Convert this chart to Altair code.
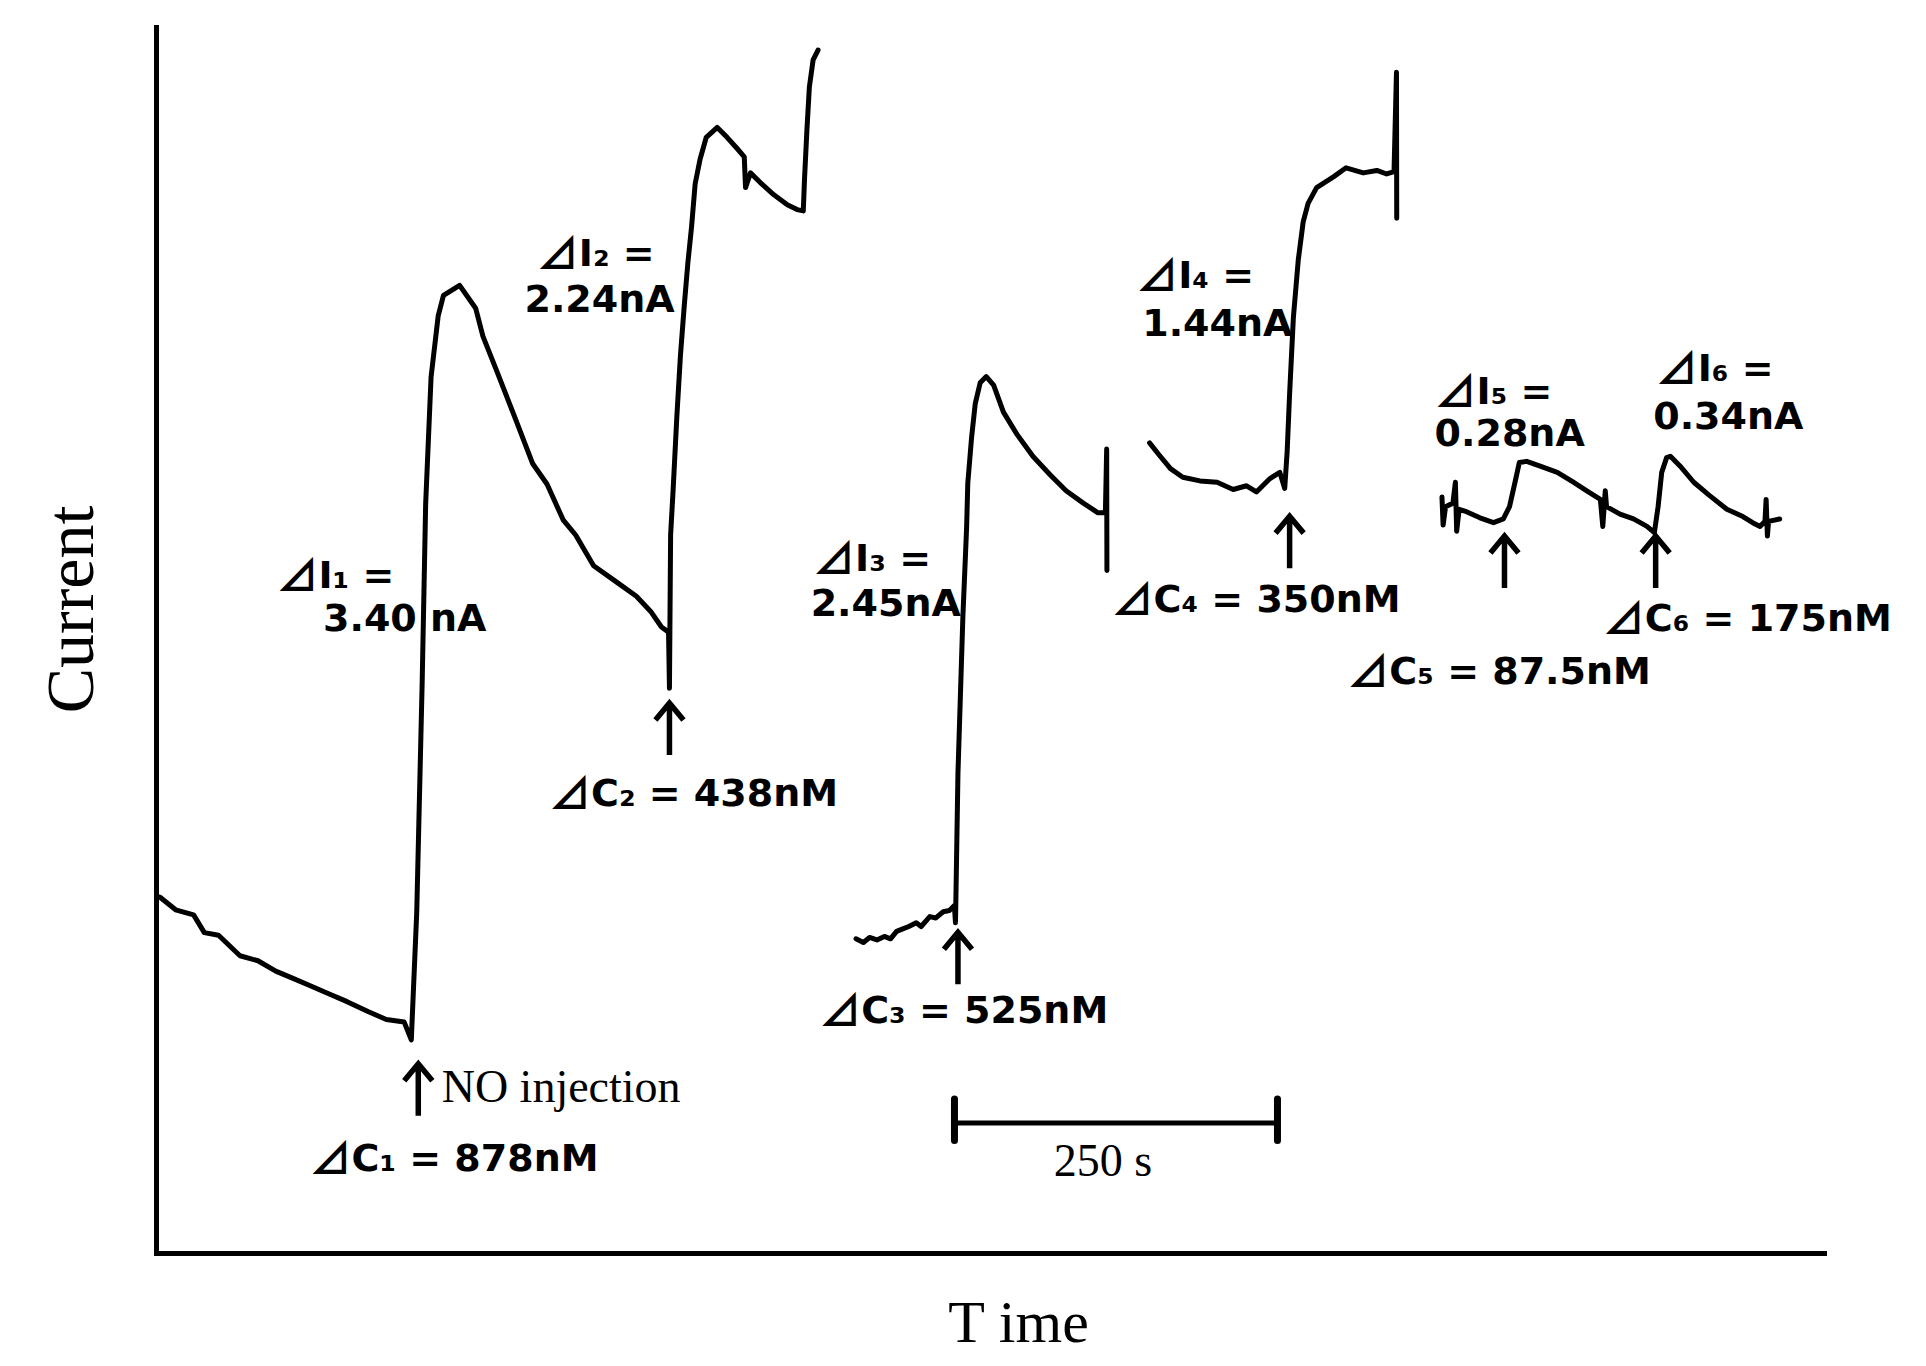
import altair as alt
import pandas as pd

# ---- trace data: time (s) and current (nA) ----
seg1_t = [2.9, 15.2, 29.1, 37.4, 48.4, 65.0, 78.9, 92.7, 106.5, 120.3, 134.1, 147.9, 164.5, 178.3, 192.1, 197.6,
          201.8, 206.0, 208.7, 212.9, 218.4, 222.5, 235.0, 247.4, 253.0, 264.0, 277.9, 291.6, 302.7, 315.1, 324.8,
          338.7, 355.2, 371.8, 382.9, 391.2, 396.7, 397.4, 398.3, 400.2, 403.1, 405.9, 408.8, 411.6, 414.5, 417.3,
          421.1, 425.9, 434.4, 442.0, 449.6, 455.3, 456.3, 460.1, 467.7, 478.2, 488.6, 496.2, 501.0, 501.9, 503.8,
          505.7, 508.6, 512.4]
seg1_I = [1.620, 1.562, 1.539, 1.458, 1.446, 1.353, 1.330, 1.283, 1.249, 1.214, 1.179, 1.144, 1.098, 1.063, 1.051, 0.970,
          1.550, 2.594, 3.407, 3.987, 4.265, 4.358, 4.404, 4.300, 4.173, 4.010, 3.801, 3.592, 3.499, 3.337, 3.268,
          3.128, 3.059, 2.989, 2.920, 2.849, 2.826, 2.570, 3.268, 3.469, 3.804, 4.084, 4.307, 4.503, 4.670, 4.866,
          4.978, 5.078, 5.123, 5.078, 5.028, 4.989, 4.849, 4.916, 4.872, 4.816, 4.771, 4.749, 4.743, 4.883, 5.112,
          5.307, 5.430, 5.475]

seg2_t = [541.8, 547.5, 552.3, 558.0, 563.7, 568.5, 573.2, 578.0, 582.7, 588.4, 592.2, 598.9, 603.6, 609.3, 614.1,
          617.9, 618.8, 620.7, 624.5, 627.4, 628.3, 631.2, 634.1, 637.9, 642.6, 648.3, 655.9, 666.4, 678.7, 692.0,
          704.4, 717.7, 729.1, 734.8, 735.8, 736.0]
seg2_I = [1.430, 1.413, 1.436, 1.425, 1.441, 1.430, 1.464, 1.475, 1.486, 1.503, 1.486, 1.531, 1.525, 1.553, 1.559,
          1.581, 1.503, 2.184, 2.894, 3.302, 3.503, 3.709, 3.866, 3.961, 3.989, 3.950, 3.827, 3.726, 3.626, 3.542,
          3.469, 3.413, 3.369, 3.369, 3.659, 3.106]

seg3_t = [769.0, 776.6, 785.2, 794.7, 808.0, 821.3, 833.7, 844.1, 851.7, 862.2, 869.8, 873.6, 875.5, 877.4, 880.3,
          884.1, 887.9, 891.7, 898.3, 911.6, 921.1, 934.4, 944.9, 952.5, 958.2, 960.1, 960.3]
seg3_I = [3.687, 3.631, 3.570, 3.531, 3.514, 3.508, 3.475, 3.492, 3.464, 3.525, 3.553, 3.480, 3.648, 3.911, 4.257,
          4.520, 4.693, 4.777, 4.849, 4.899, 4.939, 4.916, 4.927, 4.911, 4.922, 5.374, 4.709]

seg4_t = [995.3, 996.2, 998.1, 1003.8, 1005.7, 1006.7, 1008.6, 1014.3, 1024.7, 1035.2, 1042.8, 1047.6, 1052.3,
          1055.2, 1060.9, 1071.3, 1084.6, 1097.0, 1107.4, 1117.9, 1119.8, 1121.7, 1122.7, 1133.1, 1143.6, 1154.0,
          1159.7, 1162.6, 1165.4, 1169.2, 1172.1, 1179.7, 1190.2, 1202.5, 1215.8, 1228.2, 1235.8, 1241.5, 1245.3,
          1246.2, 1247.2, 1248.1, 1256.7]
seg4_I = [3.441, 3.313, 3.397, 3.413, 3.508, 3.285, 3.385, 3.374, 3.346, 3.324, 3.341, 3.397, 3.520, 3.598, 3.603,
          3.581, 3.553, 3.508, 3.469, 3.430, 3.307, 3.469, 3.397, 3.363, 3.341, 3.307, 3.279, 3.397, 3.553, 3.620,
          3.626, 3.581, 3.508, 3.447, 3.385, 3.352, 3.324, 3.307, 3.330, 3.430, 3.263, 3.330, 3.341]

# ---- annotations: labels that start with the ⊿ sign ----
delta_text = ["I₁ =", "I₂ =", "C₂ = 438nM", "I₃ =", "C₃ = 525nM", "C₁ = 878nM", "I₄ =", "C₄ = 350nM",
              "I₅ =", "I₆ =", "C₅ = 87.5nM", "C₆ = 175nM"]
delta_t = [93.2, 294.7, 304.2, 508.6, 513.3, 118.8, 758.6, 739.6, 989.6, 1160.7, 922.1, 1119.8]
delta_I = [3.078, 4.542, 2.084, 3.156, 1.095, 0.425, 4.441, 2.966, 3.916, 4.017, 2.642, 2.883]

# ---- annotations: value lines ----
value_text = ["3.40 nA", "2.24nA", "2.45nA", "1.44nA", "0.28nA", "0.34nA"]
value_t = [129.3, 285.2, 506.7, 763.3, 989.6, 1158.8]
value_I = [2.883, 4.335, 2.950, 4.223, 3.721, 3.799]

arrow_t = [203.0, 397.4, 620.7, 877.4, 1043.7, 1160.7]
arrow_I = [0.743, 2.385, 1.341, 3.235, 3.145, 3.145]

serif_text = ["NO injection"]
serif_t = [221.1]
serif_I = [0.687]

scale_text = ["250 s"]
scale_label_t = [732.9]
scale_label_I = [0.352]
bar_t0, bar_t1, bar_I = 618.0, 868.0, 0.592
cap_I0, cap_I1 = 0.512, 0.701

T_MAX, I_MAX = 1291.0, 5.58

# ---- tables ----
rows = []
for s, (ts, Is) in enumerate([(seg1_t, seg1_I), (seg2_t, seg2_I), (seg3_t, seg3_I), (seg4_t, seg4_I)]):
    for k, (t, i) in enumerate(zip(ts, Is)):
        rows.append({"seg": s, "idx": k, "t": t, "I": i})
trace = pd.DataFrame(rows)
deltas = pd.DataFrame({"text": delta_text, "tri": ["⊿"] * len(delta_text), "t": delta_t, "I": delta_I})
values = pd.DataFrame({"text": value_text, "t": value_t, "I": value_I})
arrows = pd.DataFrame({"t": arrow_t, "I": arrow_I})
serif = pd.DataFrame({"text": serif_text, "t": serif_t, "I": serif_I})
scale_lbl = pd.DataFrame({"text": scale_text, "t": scale_label_t, "I": scale_label_I})
bar = pd.DataFrame({"t0": [bar_t0], "t1": [bar_t1], "I": [bar_I]})
caps = pd.DataFrame({"t": [bar_t0, bar_t1], "I0": [cap_I0, cap_I0], "I1": [cap_I1, cap_I1]})

xs = alt.Scale(domain=[0, T_MAX], nice=False, zero=False)
ys = alt.Scale(domain=[0, I_MAX], nice=False, zero=False)

x_axis = alt.Axis(title="T ime", ticks=False, labels=False, grid=False, domainColor="black", domainWidth=5,
                  domainCap="square", titleFont="Liberation Serif", titleFontSize=60, titleFontWeight="normal",
                  titleColor="black", titleX=862, titleY=88, titleAlign="center", titleBaseline="alphabetic")
y_axis = alt.Axis(title="Current", ticks=False, labels=False, grid=False, domainColor="black", domainWidth=5,
                  domainCap="square", titleFont="Liberation Serif", titleFontSize=68, titleFontWeight="normal",
                  titleColor="black", titleX=-64, titleY=582, titleAngle=-90, titleAlign="center",
                  titleBaseline="alphabetic")


def X(field):
    return alt.X(field, scale=xs, axis=x_axis)


def Y(field):
    return alt.Y(field, scale=ys, axis=y_axis)


line = alt.Chart(trace).mark_line(color="black", strokeWidth=5, strokeJoin="round", strokeCap="round").encode(
    x=X("t:Q"), y=Y("I:Q"), detail="seg:N", order="idx:Q",
)

ARROW = "M0,1L0,-1M-0.54,-0.35L0,-1L0.54,-0.35"
arrow_layer = alt.Chart(arrows).mark_point(shape=ARROW, size=2704, filled=False, color="black",
                                           strokeWidth=5.5, opacity=1).encode(x=X("t:Q"), y=Y("I:Q"))

tri_layer = alt.Chart(deltas).mark_text(align="left", baseline="middle", font="Noto Sans CJK JP",
                                        fontWeight="bold", fontSize=42, color="black", dy=1).encode(
    x=X("t:Q"), y=Y("I:Q"), text="tri:N")

delta_layer = alt.Chart(deltas).mark_text(align="left", baseline="middle", font="DejaVu Sans", fontWeight="bold",
                                          fontSize=38, color="black", dx=42).encode(
    x=X("t:Q"), y=Y("I:Q"), text="text:N")

value_layer = alt.Chart(values).mark_text(align="left", baseline="middle", font="DejaVu Sans", fontWeight="bold",
                                          fontSize=38, color="black").encode(
    x=X("t:Q"), y=Y("I:Q"), text="text:N")

serif_layer = alt.Chart(serif).mark_text(align="left", baseline="alphabetic", font="Liberation Serif",
                                         fontSize=46, color="black").encode(
    x=X("t:Q"), y=Y("I:Q"), text="text:N")

scale_text_layer = alt.Chart(scale_lbl).mark_text(align="center", baseline="alphabetic", font="Liberation Serif",
                                                  fontSize=46, color="black").encode(
    x=X("t:Q"), y=Y("I:Q"), text="text:N")

bar_layer = alt.Chart(bar).mark_rule(color="black", strokeWidth=5).encode(
    x=X("t0:Q"), x2="t1:Q", y=Y("I:Q"))

caps_layer = alt.Chart(caps).mark_rule(color="black", strokeWidth=7, strokeCap="round").encode(
    x=X("t:Q"), y=Y("I0:Q"), y2="I1:Q")

chart = alt.layer(line, arrow_layer, tri_layer, delta_layer, value_layer, serif_layer, scale_text_layer,
                  bar_layer, caps_layer).properties(
    width=1668, height=1226,
    autosize=alt.AutoSizeParams(type="none"),
    padding={"left": 148, "top": 19, "right": 90, "bottom": 100},
    background="white",
).configure_view(stroke=None)

chart.save("out.html", embed_options={"renderer": "svg", "actions": False})
